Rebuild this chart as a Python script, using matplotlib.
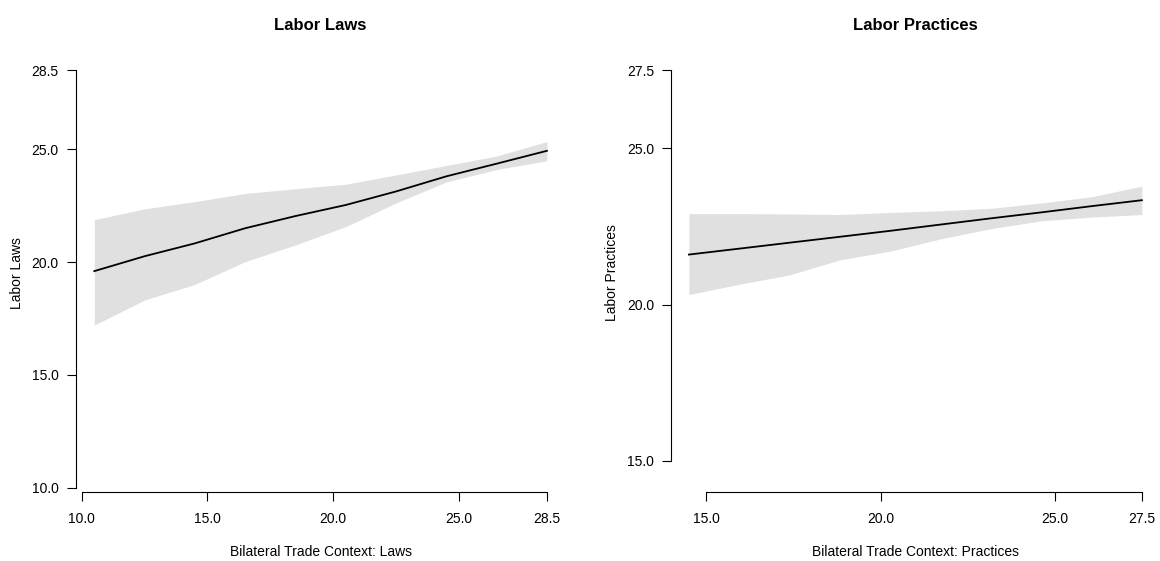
import matplotlib

matplotlib.use("Agg")
import matplotlib.pyplot as plt

plt.rcParams["font.family"] = ["Liberation Sans", "DejaVu Sans"]

W, H = 1160, 561

# --- data ---
laws_x = [10.5, 12.5, 14.5, 16.5, 18.5, 20.5, 22.5, 24.5, 26.5, 28.5]
laws_fit = [19.60, 20.26, 20.83, 21.50, 22.04, 22.53, 23.13, 23.80, 24.36, 24.93]
laws_upper = [21.88, 22.36, 22.68, 23.04, 23.25, 23.45, 23.86, 24.28, 24.70, 25.34]
laws_lower = [17.21, 18.32, 19.01, 20.02, 20.76, 21.57, 22.62, 23.55, 24.10, 24.49]
laws_ticks = [10.0, 15.0, 20.0, 25.0, 28.5]

prac_x = [14.5, 15.95, 17.39, 18.84, 20.28, 21.72, 23.17, 24.61, 26.06, 27.5]
prac_fit = [21.60, 21.79, 21.98, 22.17, 22.36, 22.56, 22.76, 22.95, 23.15, 23.34]
prac_upper = [22.91, 22.91, 22.90, 22.88, 22.95, 23.00, 23.08, 23.25, 23.45, 23.79]
prac_lower = [20.32, 20.65, 20.95, 21.43, 21.71, 22.10, 22.43, 22.68, 22.80, 22.88]
prac_ticks = [15.0, 20.0, 25.0, 27.5]

fig = plt.figure(figsize=(W / 100, H / 100), dpi=100)


def px_axes(left, right, bottom, top):
    # pixel box (top-left origin) -> figure fraction axes
    return fig.add_axes([left / W, 1 - bottom / H, (right - left) / W, (bottom - top) / H])


def draw_panel(ax, x, fit, lo, hi, xticks, yticks, xlim, ylim):
    ax.fill_between(x, lo, hi, color="#E0E0E0", linewidth=0)
    ax.plot(x, fit, color="black", linewidth=1.3)
    ax.set_xlim(*xlim)
    ax.set_ylim(*ylim)
    for side in ("top", "right"):
        ax.spines[side].set_visible(False)
    ax.spines["left"].set_bounds(yticks[0], yticks[-1])
    ax.spines["bottom"].set_bounds(xticks[0], xticks[-1])
    for side in ("left", "bottom"):
        ax.spines[side].set_linewidth(0.8)
    ax.set_xticks(xticks)
    ax.set_xticklabels([f"{t:.1f}" for t in xticks])
    ax.set_yticks(yticks)
    ax.set_yticklabels([f"{t:.1f}" for t in yticks])
    ax.tick_params(axis="x", length=6.3, width=0.8, pad=8, labelsize=10)
    ax.tick_params(axis="y", length=6.3, width=0.8, pad=6, labelsize=10)
    ax.patch.set_visible(False)


ax1 = px_axes(75.7, 565, 492.3, 54)
draw_panel(ax1, laws_x, laws_fit, laws_lower, laws_upper, laws_ticks, laws_ticks,
           (9.76, 29.22), (9.80, 29.22))

ax2 = px_axes(671, 1160, 492.3, 54)
draw_panel(ax2, prac_x, prac_fit, prac_lower, prac_upper, prac_ticks, prac_ticks,
           (13.987, 28.02), (13.99, 28.02))

# titles and axis labels placed like R's title()
fig.text(320 / W, 1 - 25 / H, "Labor Laws", ha="center", va="center",
         fontsize=12, fontweight="bold")
fig.text(915.5 / W, 1 - 25 / H, "Labor Practices", ha="center", va="center",
         fontsize=12, fontweight="bold")
fig.text(320.5 / W, 1 - 556.5 / H, "Bilateral Trade Context: Laws", ha="center",
         va="baseline", fontsize=10)
fig.text(915.5 / W, 1 - 556.5 / H, "Bilateral Trade Context: Practices", ha="center",
         va="baseline", fontsize=10)
fig.text(17 / W, 1 - 273 / H, "Labor Laws", ha="center", va="center",
         rotation=90, fontsize=10)
fig.text(612 / W, 1 - 272.5 / H, "Labor Practices", ha="center", va="center",
         rotation=90, fontsize=10)

fig.savefig("out.png", dpi=100)
